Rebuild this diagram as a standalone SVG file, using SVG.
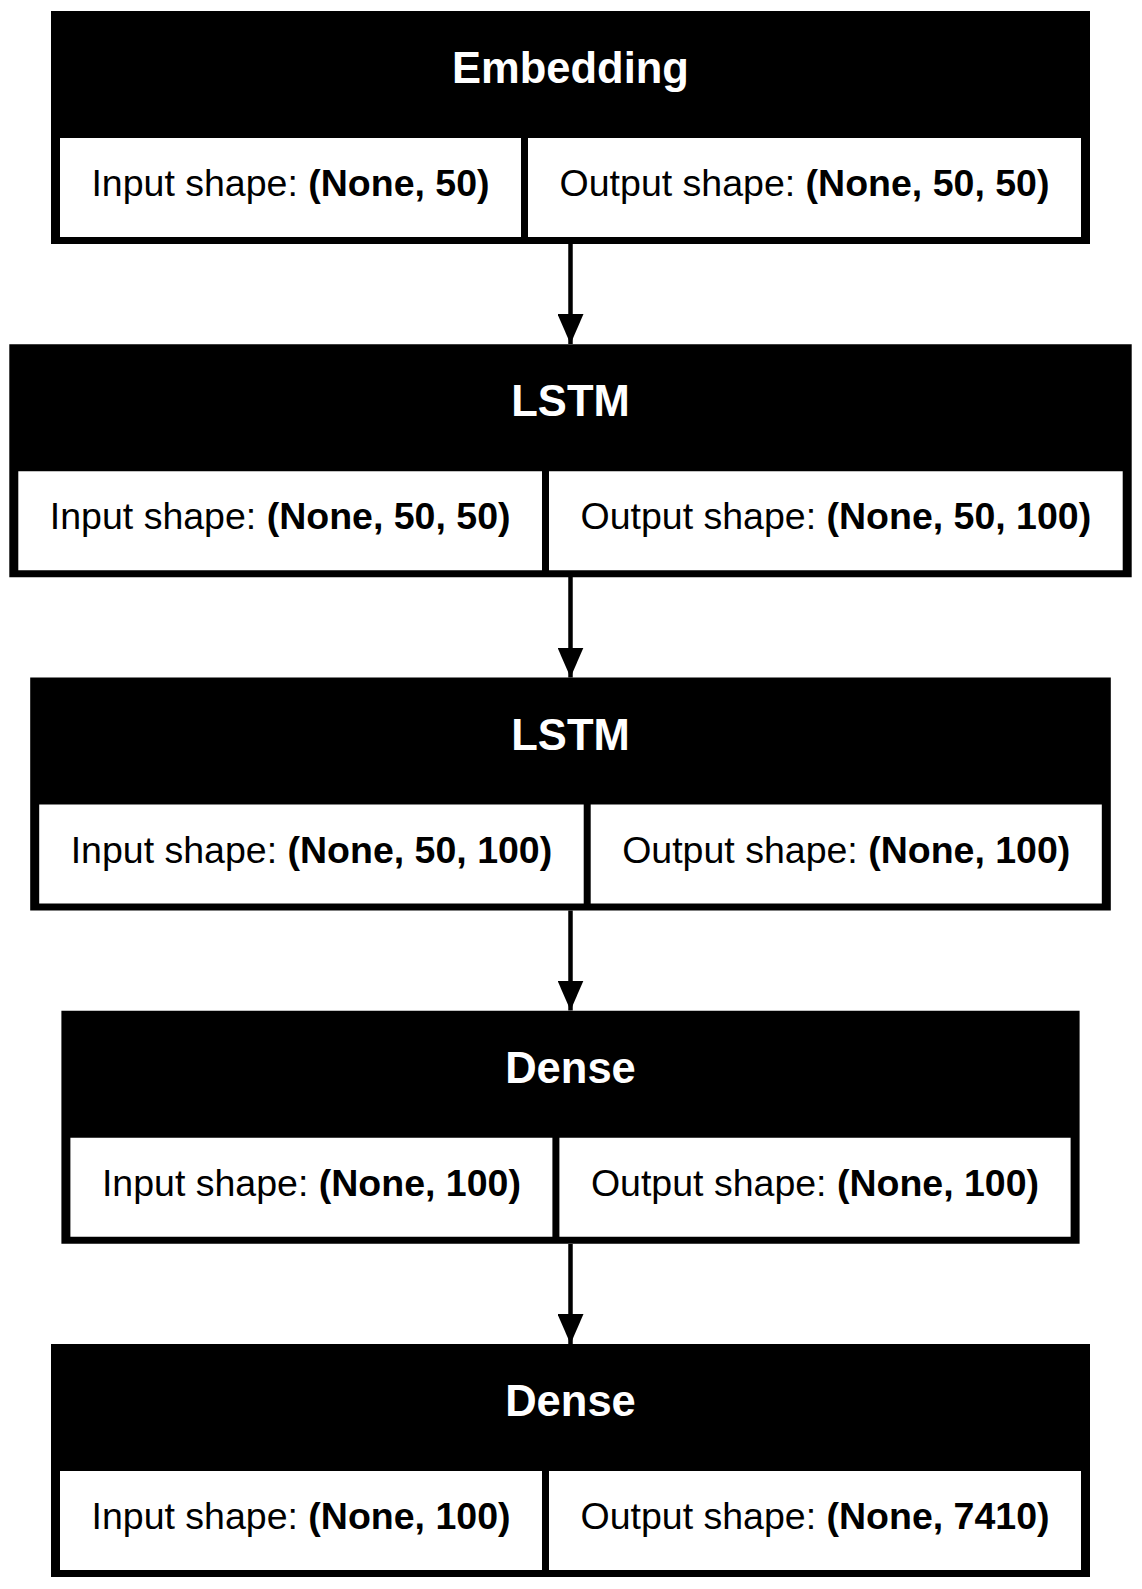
<svg xmlns="http://www.w3.org/2000/svg" width="1142" height="1589" viewBox="0 0 1142 1589">
<style>
.outer{fill:#000}
.cell{fill:#fff}
.hdr{font-family:"Liberation Sans",Arial,sans-serif;font-size:43.5px;font-weight:bold;fill:#fff;text-anchor:middle}
.txt{font-family:"Liberation Sans",Arial,sans-serif;font-size:37.5px;fill:#000;text-anchor:middle}
.b{font-weight:bold}
.edge{stroke:#000;stroke-width:4.5;fill:none}
</style>
<defs>
<marker id="ah" markerUnits="userSpaceOnUse" markerWidth="30" markerHeight="26" refX="30" refY="13" orient="auto" viewBox="0 0 30 26">
<path d="M0,0 L30,13 L0,26 Z" fill="#000"/>
</marker>
</defs>
<rect width="1142" height="1589" fill="#fff"/>
<g id="connectors">
<line class="edge" x1="570.5" y1="244" x2="570.5" y2="344" marker-end="url(#ah)"/>
<line class="edge" x1="570.5" y1="577" x2="570.5" y2="677.5" marker-end="url(#ah)"/>
<line class="edge" x1="570.5" y1="910.5" x2="570.5" y2="1010.5" marker-end="url(#ah)"/>
<line class="edge" x1="570.5" y1="1244" x2="570.5" y2="1344" marker-end="url(#ah)"/>
</g>
<g id="node-embedding">
<rect class="outer" x="51" y="11" width="1039" height="233"/>
<rect class="cell" x="60" y="138" width="461" height="99"/>
<rect class="cell" x="528" y="138" width="553" height="99"/>
<text class="hdr" x="570.5" y="83">Embedding</text>
<text class="txt" x="290.5" y="196">Input shape: <tspan class="b">(None, 50)</tspan></text>
<text class="txt" x="804.5" y="196">Output shape: <tspan class="b">(None, 50, 50)</tspan></text>
</g>
<g id="node-lstm-1">
<rect class="outer" x="9.3" y="344.25" width="1122.4" height="233"/>
<rect class="cell" x="18.3" y="471.25" width="523.7" height="99"/>
<rect class="cell" x="549" y="471.25" width="573.7" height="99"/>
<text class="hdr" x="570.5" y="416.25">LSTM</text>
<text class="txt" x="280.15" y="529.25">Input shape: <tspan class="b">(None, 50, 50)</tspan></text>
<text class="txt" x="835.85" y="529.25">Output shape: <tspan class="b">(None, 50, 100)</tspan></text>
</g>
<g id="node-lstm-2">
<rect class="outer" x="30.2" y="677.5" width="1080.6" height="233"/>
<rect class="cell" x="39.2" y="804.5" width="544.5" height="99"/>
<rect class="cell" x="590.7" y="804.5" width="511.1" height="99"/>
<text class="hdr" x="570.5" y="749.5">LSTM</text>
<text class="txt" x="311.45" y="862.5">Input shape: <tspan class="b">(None, 50, 100)</tspan></text>
<text class="txt" x="846.25" y="862.5">Output shape: <tspan class="b">(None, 100)</tspan></text>
</g>
<g id="node-dense-1">
<rect class="outer" x="61.4" y="1010.75" width="1018.2" height="233"/>
<rect class="cell" x="70.4" y="1137.75" width="482" height="99"/>
<rect class="cell" x="559.4" y="1137.75" width="511.2" height="99"/>
<text class="hdr" x="570.5" y="1082.75">Dense</text>
<text class="txt" x="311.4" y="1195.75">Input shape: <tspan class="b">(None, 100)</tspan></text>
<text class="txt" x="815" y="1195.75">Output shape: <tspan class="b">(None, 100)</tspan></text>
</g>
<g id="node-dense-2">
<rect class="outer" x="51" y="1344" width="1039" height="233"/>
<rect class="cell" x="60" y="1471" width="482" height="99"/>
<rect class="cell" x="549" y="1471" width="532" height="99"/>
<text class="hdr" x="570.5" y="1416">Dense</text>
<text class="txt" x="301" y="1529">Input shape: <tspan class="b">(None, 100)</tspan></text>
<text class="txt" x="815" y="1529">Output shape: <tspan class="b">(None, 7410)</tspan></text>
</g>
</svg>
